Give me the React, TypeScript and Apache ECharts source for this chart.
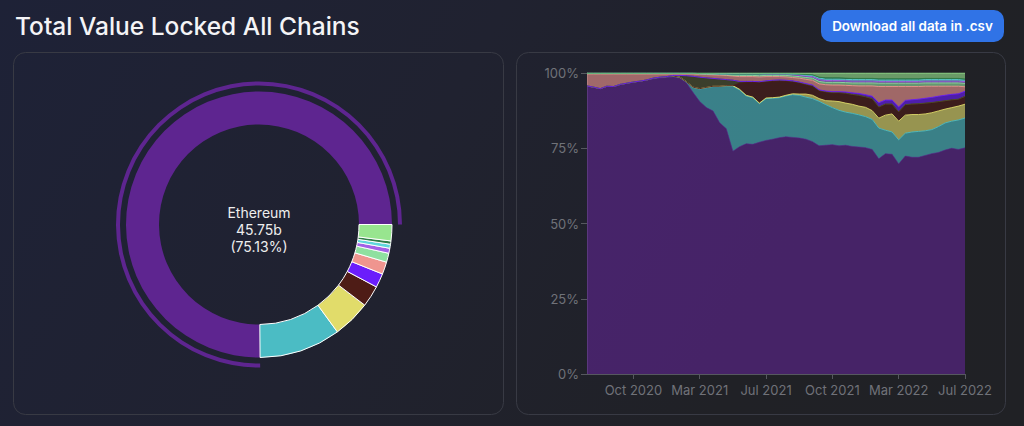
import React, { useEffect, useRef } from "react";
import * as echarts from "echarts";

// ---------- data ----------
const dates = [
  "2020-07-02", "2020-07-15", "2020-07-28", "2020-08-10", "2020-08-23", "2020-09-05", "2020-09-18", "2020-10-01",
  "2020-10-16", "2020-10-31", "2020-11-15", "2020-11-30", "2020-12-15", "2020-12-30", "2021-01-14", "2021-01-29",
  "2021-02-13", "2021-03-01", "2021-03-13", "2021-03-25", "2021-04-06", "2021-04-18", "2021-04-30", "2021-05-12",
  "2021-05-24", "2021-06-05", "2021-06-17", "2021-07-01", "2021-07-10", "2021-07-19", "2021-07-28", "2021-08-06",
  "2021-08-15", "2021-08-24", "2021-09-02", "2021-09-11", "2021-09-20", "2021-10-01", "2021-10-16", "2021-10-31",
  "2021-11-15", "2021-11-30", "2021-12-15", "2021-12-30", "2022-01-14", "2022-01-29", "2022-02-13", "2022-03-01",
  "2022-03-13", "2022-03-25", "2022-04-06", "2022-04-18", "2022-04-30", "2022-05-12", "2022-05-24", "2022-06-05",
  "2022-06-17", "2022-07-01",
];

// share of total TVL, percent
const ethereumShare = [95.7, 95.3, 94.8, 95.6, 95.5, 96.2, 96.6, 97.0, 97.3, 97.7, 98.0, 98.3, 98.5, 98.7, 98.3, 96.7, 93.5, 90.5, 88.5, 87.4, 83.5, 81.5, 74.0, 75.5, 76.5, 76.3, 77.0, 77.6, 78.0, 78.5, 78.8, 78.6, 78.4, 78.0, 77.2, 75.8, 76.0, 76.2, 75.8, 76.0, 75.6, 75.4, 75.2, 74.6, 71.5, 73.2, 73.0, 69.8, 72.4, 72.0, 72.0, 72.6, 73.2, 73.6, 74.4, 75.0, 74.6, 75.13];
const bscShare = [0, 0, 0, 0, 0, 0, 0, 0, 0, 0, 0.3, 0.3, 0.3, 0.3, 0.3, 0.4, 1.7, 4.2, 6.6, 8.1, 12.0, 14.2, 21.6, 18.9, 15.9, 15.5, 12.8, 13.9, 13.6, 13.3, 13.6, 14.2, 14.2, 14.0, 14.3, 14.8, 13.5, 12.3, 11.8, 11.0, 11.0, 10.7, 10.3, 10.0, 10.2, 7.8, 7.4, 8.0, 7.6, 8.4, 8.6, 8.2, 8.0, 8.6, 9.0, 9.0, 9.8, 9.9];
const tronShare = [0, 0, 0, 0, 0, 0, 0, 0, 0, 0, 0, 0, 0, 0, 0, 0, 0.1, 0.1, 0.1, 0.1, 0.1, 0.1, 0.2, 0.2, 0.2, 0.2, 0.2, 0.2, 0.2, 0.2, 0.2, 0.3, 0.4, 1.0, 1.1, 0.9, 1.3, 2.2, 2.9, 3.0, 3.0, 2.9, 3.1, 2.9, 3.3, 5.0, 6.0, 6.2, 6.0, 5.8, 5.6, 5.6, 5.6, 5.2, 4.6, 4.5, 4.6, 4.6];
const avalancheShare = [0, 0, 0, 0, 0, 0, 0, 0, 0, 0, 0, 0, 0, 0, 0, 0, 0, 0, 0, 0, 0, 0, 0, 2.0, 4.2, 4.9, 6.8, 5.3, 5.4, 5.3, 4.6, 3.9, 3.6, 3.0, 3.0, 2.5, 2.8, 2.6, 2.9, 3.2, 3.2, 3.5, 3.4, 3.9, 3.6, 3.6, 3.2, 3.0, 3.4, 3.4, 3.5, 3.5, 3.3, 3.0, 2.7, 2.5, 2.2, 2.6];
const hecoShare = [0, 0, 0, 0, 0, 0, 0, 0, 0, 0, 0, 0, 0, 0.2, 0.6, 2.0, 3.6, 3.8, 3.2, 2.6, 2.4, 2.0, 1.8, 0.6, 0.4, 0.3, 0.3, 0.3, 0.3, 0.3, 0.3, 0.3, 0.3, 0.3, 0.2, 0.2, 0.2, 0.2, 0.1, 0.1, 0.1, 0.1, 0.1, 0.1, 0.1, 0.1, 0.1, 0.1, 0.1, 0.1, 0.1, 0.1, 0.1, 0.1, 0.1, 0.1, 0.1, 0];
const polygonShare = [0, 0, 0, 0, 0, 0, 0, 0, 0, 0, 0, 0, 0, 0, 0, 0, 0, 0, 0, 0, 0, 0, 0, 0, 0, 0, 0, 0.1, 0.1, 0.1, 0.1, 0.1, 0.1, 0.2, 0.2, 0.2, 0.2, 0.3, 0.3, 0.4, 0.5, 0.6, 0.7, 0.8, 1.4, 1.3, 1.3, 1.6, 1.4, 1.4, 1.5, 1.6, 1.7, 1.8, 1.8, 1.8, 1.8, 1.7];
const solanaShare = [4.0, 4.4, 4.9, 4.1, 4.2, 3.5, 3.1, 2.7, 2.4, 2.0, 1.4, 1.1, 0.9, 0.5, 0.5, 0.6, 0.8, 1.0, 1.1, 1.2, 1.3, 1.4, 1.4, 1.6, 1.6, 1.6, 1.6, 1.4, 1.2, 1.1, 1.1, 1.1, 1.3, 1.4, 1.6, 2.0, 2.1, 2.2, 2.2, 2.2, 2.4, 2.5, 2.9, 3.4, 5.4, 4.5, 4.5, 6.8, 4.6, 4.4, 4.2, 4.0, 3.7, 3.3, 3.0, 2.7, 2.5, 1.5];
const fantomShare = [0.1, 0.1, 0.1, 0.1, 0.1, 0.1, 0.1, 0.1, 0.1, 0.1, 0.1, 0.1, 0.1, 0.1, 0.1, 0.1, 0.1, 0.1, 0.1, 0.2, 0.2, 0.2, 0.3, 0.4, 0.4, 0.4, 0.4, 0.4, 0.4, 0.4, 0.5, 0.5, 0.5, 0.6, 0.7, 0.8, 0.8, 0.9, 0.9, 0.9, 0.9, 1.0, 1.0, 1.0, 1.1, 1.1, 1.1, 1.1, 1.1, 1.1, 1.1, 1.1, 1.1, 1.1, 1.1, 1.1, 1.1, 1.1];
const arbitrumShare = [0.1, 0.1, 0.1, 0.1, 0.1, 0.1, 0.1, 0.1, 0.1, 0.1, 0.1, 0.1, 0.1, 0.1, 0.1, 0.1, 0.1, 0.1, 0.2, 0.2, 0.2, 0.3, 0.3, 0.4, 0.4, 0.4, 0.4, 0.4, 0.4, 0.4, 0.4, 0.5, 0.5, 0.5, 0.5, 0.6, 0.6, 0.6, 0.6, 0.6, 0.6, 0.6, 0.6, 0.6, 0.6, 0.6, 0.6, 0.6, 0.6, 0.6, 0.6, 0.6, 0.6, 0.6, 0.6, 0.6, 0.6, 0.6];
const cronosShare = [0, 0, 0, 0, 0, 0, 0, 0, 0, 0, 0, 0, 0, 0, 0, 0, 0, 0, 0, 0, 0, 0, 0, 0, 0, 0, 0.1, 0.1, 0.1, 0.1, 0.1, 0.1, 0.2, 0.3, 0.4, 0.5, 0.5, 0.5, 0.5, 0.5, 0.5, 0.5, 0.5, 0.5, 0.5, 0.5, 0.5, 0.5, 0.5, 0.5, 0.5, 0.5, 0.5, 0.5, 0.5, 0.5, 0.5, 0.5];
const optimismShare = [0, 0, 0, 0, 0, 0, 0, 0, 0, 0, 0, 0, 0, 0, 0, 0, 0, 0, 0, 0, 0, 0, 0, 0, 0, 0, 0, 0, 0, 0, 0, 0.1, 0.1, 0.2, 0.2, 0.3, 0.4, 0.4, 0.4, 0.4, 0.4, 0.4, 0.4, 0.4, 0.4, 0.4, 0.4, 0.4, 0.4, 0.4, 0.4, 0.4, 0.4, 0.4, 0.4, 0.4, 0.4, 0.4];
const othersShare = [0.1, 0.1, 0.1, 0.1, 0.1, 0.1, 0.1, 0.1, 0.1, 0.1, 0.1, 0.1, 0.1, 0.1, 0.1, 0.1, 0.1, 0.2, 0.2, 0.2, 0.3, 0.3, 0.4, 0.4, 0.4, 0.4, 0.4, 0.3, 0.3, 0.3, 0.3, 0.3, 0.4, 0.5, 0.6, 1.4, 1.6, 1.6, 1.6, 1.7, 1.8, 1.8, 1.8, 1.8, 1.9, 1.9, 1.9, 1.9, 1.9, 1.9, 1.9, 1.8, 1.8, 1.8, 1.8, 1.8, 1.8, 1.97];

// current TVL, billions USD
const donutNames = ["Ethereum", "BSC", "Tron", "Avalanche", "Polygon", "Solana", "Fantom", "Arbitrum", "Cronos", "Optimism", "Others"];
const donutValues = [45.75, 6.03, 2.8, 1.58, 1.04, 0.91, 0.67, 0.37, 0.3, 0.24, 1.204];

const yTicks = [0, 25, 50, 75, 100];
const MONTHS = ["Jan", "Feb", "Mar", "Apr", "May", "Jun", "Jul", "Aug", "Sep", "Oct", "Nov", "Dec"];

// ---------- styles ----------
const COLORS: Record<string, string> = {
  Ethereum: "#5e2590",
  BSC: "#4bbcc4",
  Tron: "#e1dc6a",
  Avalanche: "#4e1c16",
  Heco: "#4c502b",
  Polygon: "#6b1dfb",
  Solana: "#ef958f",
  Fantom: "#8fe0a0",
  Arbitrum: "#a260e6",
  Cronos: "#5fd6dc",
  Optimism: "#2e7d46",
  Others: "#98e58f",
};

const FONT = "Inter, 'Noto Sans', sans-serif";

export default function App() {
  const ref = useRef<HTMLDivElement>(null);

  useEffect(() => {
    if (!ref.current) return;
    const chart = echarts.init(ref.current, undefined, { renderer: "svg" });

    const areaSeriesDefs: [string, number[]][] = [
      ["Ethereum", ethereumShare],
      ["BSC", bscShare],
      ["Tron", tronShare],
      ["Avalanche", avalancheShare],
      ["Heco", hecoShare],
      ["Polygon", polygonShare],
      ["Solana", solanaShare],
      ["Fantom", fantomShare],
      ["Arbitrum", arbitrumShare],
      ["Cronos", cronosShare],
      ["Optimism", optimismShare],
      ["Others", othersShare],
    ];

    const total = donutValues.reduce((a, b) => a + b, 0);
    const top = donutValues[0];
    const pct = ((top / total) * 100).toFixed(2);

    const showIdx = (i: number) => i % 10 === 7;
    const center = [259, 224.5];

    const option: any = {
      animation: false,
      textStyle: { fontFamily: FONT },
      grid: { left: 587, right: 59, top: 73, bottom: 52 },
      xAxis: {
        type: "category",
        data: dates,
        boundaryGap: false,
        axisLine: { lineStyle: { color: "#56585f", width: 1 } },
        axisTick: { interval: (i: number) => showIdx(i), length: 5, lineStyle: { color: "#56585f" } },
        axisLabel: {
          interval: (i: number) => showIdx(i),
          color: "#707279",
          fontSize: 13,
          fontFamily: FONT,
          margin: 9,
          formatter: (v: string) => {
            const [y, m] = v.split("-");
            return MONTHS[+m - 1] + " " + y;
          },
        },
        splitLine: { show: false },
      },
      yAxis: {
        type: "value",
        min: yTicks[0],
        max: yTicks[yTicks.length - 1],
        interval: 25,
        axisLine: { show: true, lineStyle: { color: "#56585f" } },
        axisTick: { show: true, length: 6, lineStyle: { color: "#56585f" } },
        axisLabel: { color: "#707279", fontSize: 13, fontFamily: FONT, margin: 8, formatter: "{value}%" },
        splitLine: { show: false },
      },
      series: [
        ...areaSeriesDefs.map(([name, data]) => ({
          name,
          type: "line",
          stack: "tvl",
          data,
          symbol: "none",
          smooth: false,
          lineStyle: { width: 1, color: COLORS[name], opacity: name === "Ethereum" ? 0.6 : 0.9 },
          areaStyle: { color: COLORS[name], opacity: 0.62 },
          itemStyle: { color: COLORS[name] },
          silent: true,
        })),
        {
          type: "pie",
          center,
          radius: [100, 133],
          startAngle: 0,
          clockwise: false,
          silent: true,
          label: { show: false },
          labelLine: { show: false },
          data: donutNames.map((n, i) => ({
            name: n,
            value: donutValues[i],
            itemStyle: {
              color: COLORS[n],
              borderColor: i === 0 ? COLORS[n] : "#ffffff",
              borderWidth: i === 0 ? 0 : 1,
            },
          })),
        },
        {
          type: "pie",
          center,
          radius: [139, 143],
          startAngle: 0,
          clockwise: false,
          silent: true,
          label: { show: false },
          labelLine: { show: false },
          data: donutNames.map((n, i) => ({
            name: n + " ring",
            value: donutValues[i],
            itemStyle: { color: i === 0 ? COLORS[n] : "rgba(0,0,0,0)", borderWidth: 0 },
          })),
        },
      ],
      graphic: [
        {
          type: "rect",
          shape: { x: 13.5, y: 52.5, width: 490, height: 362, r: 12 },
          style: { fill: "rgba(0,0,0,0)", stroke: "#383a44", lineWidth: 1 },
          silent: true,
          z: -1,
        },
        {
          type: "rect",
          shape: { x: 516.5, y: 52.5, width: 489, height: 362, r: 12 },
          style: { fill: "rgba(0,0,0,0)", stroke: "#383a44", lineWidth: 1 },
          silent: true,
          z: -1,
        },
        {
          type: "text",
          style: {
            x: 15,
            y: 26,
            text: "Total Value Locked All Chains",
            fill: "#f4f4f6",
            font: `500 24.5px ${FONT}`,
            verticalAlign: "middle",
          },
        },
        {
          type: "rect",
          shape: { x: 821, y: 10, width: 183, height: 32, r: 10 },
          style: { fill: "#3073e6" },
        },
        {
          type: "text",
          style: {
            x: 912.5,
            y: 26,
            text: "Download all data in .csv",
            fill: "#ffffff",
            font: `600 13.4px ${FONT}`,
            align: "center",
            verticalAlign: "middle",
          },
        },
        {
          type: "text",
          style: {
            x: center[0],
            y: 212,
            text: donutNames[0],
            fill: "#eeeeee",
            font: `400 14px ${FONT}`,
            align: "center",
            verticalAlign: "middle",
          },
        },
        {
          type: "text",
          style: {
            x: center[0],
            y: 229,
            text: top.toFixed(2) + "b",
            fill: "#eeeeee",
            font: `400 14px ${FONT}`,
            align: "center",
            verticalAlign: "middle",
          },
        },
        {
          type: "text",
          style: {
            x: center[0],
            y: 246,
            text: "(" + pct + "%)",
            fill: "#eeeeee",
            font: `400 14px ${FONT}`,
            align: "center",
            verticalAlign: "middle",
          },
        },
      ],
    };

    chart.setOption(option);
    return () => chart.dispose();
  }, []);

  return (
    <div
      style={{
        position: "fixed",
        left: 0,
        top: 0,
        width: 1024,
        height: 426,
        background: "linear-gradient(120deg, #1e2237 0%, #202230 40%, #202126 75%, #202125 100%)",
      }}
    >
      <div ref={ref} style={{ width: 1024, height: 426 }} />
    </div>
  );
}
